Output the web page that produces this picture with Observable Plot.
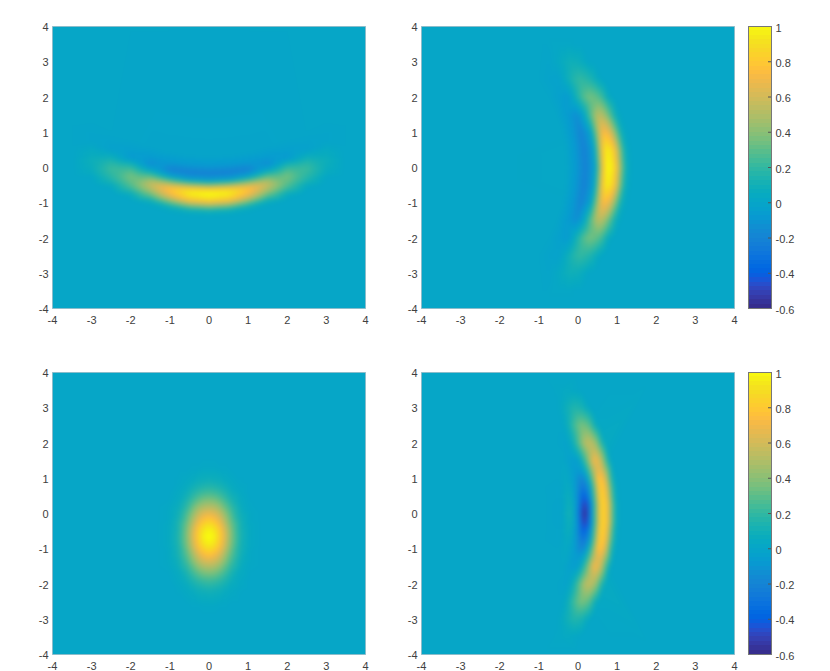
<!DOCTYPE html>
<html><head><meta charset="utf-8">
<script src="https://cdn.jsdelivr.net/npm/d3@7"></script>
<script src="https://cdn.jsdelivr.net/npm/@observablehq/plot@0.6"></script>
<style>
html,body{margin:0;padding:0;background:#fff;width:830px;height:671px;overflow:hidden}
#chart{position:relative;width:830px;height:671px}
</style></head><body><div id="chart"></div>
<script>
const parula=[[0.2081,0.1663,0.5292],[0.2116,0.1898,0.5777],[0.2123,0.2138,0.6270],[0.2081,0.2386,0.6771],[0.1959,0.2645,0.7279],[0.1707,0.2919,0.7792],[0.1253,0.3242,0.8303],[0.0591,0.3598,0.8683],[0.0117,0.3875,0.8820],[0.0060,0.4086,0.8828],[0.0165,0.4266,0.8786],[0.0329,0.4430,0.8720],[0.0498,0.4586,0.8641],[0.0629,0.4737,0.8554],[0.0723,0.4887,0.8467],[0.0779,0.5040,0.8384],[0.0793,0.5200,0.8312],[0.0749,0.5375,0.8263],[0.0641,0.5570,0.8240],[0.0488,0.5772,0.8228],[0.0343,0.5966,0.8199],[0.0265,0.6137,0.8135],[0.0239,0.6287,0.8038],[0.0231,0.6418,0.7913],[0.0228,0.6535,0.7768],[0.0267,0.6642,0.7607],[0.0384,0.6743,0.7436],[0.0590,0.6838,0.7254],[0.0843,0.6928,0.7062],[0.1133,0.7015,0.6859],[0.1453,0.7098,0.6646],[0.1801,0.7177,0.6424],[0.2178,0.7250,0.6193],[0.2586,0.7317,0.5954],[0.3022,0.7376,0.5712],[0.3482,0.7424,0.5473],[0.3953,0.7459,0.5244],[0.4420,0.7481,0.5033],[0.4871,0.7491,0.4840],[0.5300,0.7491,0.4661],[0.5709,0.7485,0.4494],[0.6099,0.7473,0.4337],[0.6473,0.7456,0.4188],[0.6834,0.7435,0.4044],[0.7184,0.7411,0.3905],[0.7525,0.7384,0.3768],[0.7858,0.7356,0.3633],[0.8185,0.7327,0.3498],[0.8507,0.7299,0.3360],[0.8824,0.7274,0.3217],[0.9139,0.7258,0.3063],[0.9450,0.7261,0.2886],[0.9739,0.7314,0.2666],[0.9938,0.7455,0.2403],[0.9990,0.7653,0.2164],[0.9955,0.7861,0.1967],[0.9880,0.8066,0.1794],[0.9789,0.8271,0.1633],[0.9697,0.8481,0.1475],[0.9626,0.8705,0.1309],[0.9589,0.8949,0.1132],[0.9598,0.9218,0.0948],[0.9661,0.9514,0.0755],[0.9763,0.9831,0.0538]];
const valueDomain=[-0.6,1];
const axisTicks=[-4,-3,-2,-1,0,1,2,3,4];
const barTicks=[-0.6,-0.4,-0.2,0,0.2,0.4,0.6,0.8,1];
const barLevels=d3.range(64);
const frameEdge=[-4,-3,-2,-1,0,1,2,3,4];

// Panel A (top left): samples along each arc line, at |x| = alongA
const alongA=[0,0.5,1,1.5,2,2.5,3,3.5];
const posA=[
 [-1.4,-1.37,-1.28,-1.12,-0.92,-0.7,-0.46,-0.22],
 [-1.22,-1.19,-1.1,-0.94,-0.74,-0.52,-0.28,-0.04],
 [-1.07,-1.04,-0.95,-0.79,-0.59,-0.37,-0.13,0.11],
 [-0.9,-0.87,-0.78,-0.62,-0.42,-0.2,0.04,0.28],
 [-0.72,-0.69,-0.6,-0.44,-0.24,-0.02,0.22,0.46],
 [-0.56,-0.53,-0.44,-0.28,-0.08,0.14,0.38,0.62],
 [-0.39,-0.36,-0.27,-0.11,0.09,0.31,0.55,0.79],
 [-0.3,-0.27,-0.18,-0.02,0.18,0.4,0.64,0.88],
 [-0.17,-0.14,-0.05,0.11,0.31,0.53,0.77,1.01],
 [0,0.03,0.12,0.28,0.48,0.7,0.94,1.18],
 [0.33,0.36,0.45,0.61,0.81,1.03,1.27,1.51]];
const valA=[
 [0,0,0,0,0,0,0,0],
 [0.1,0.1,0.09,0.08,0.07,0.04,0.01,0],
 [0.5,0.49,0.4,0.29,0.22,0.13,0.05,0],
 [0.9,0.86,0.69,0.49,0.31,0.19,0.07,0],
 [1.03,0.98,0.78,0.55,0.35,0.22,0.08,0],
 [0.62,0.59,0.47,0.34,0.26,0.16,0.05,0],
 [0,0,0.01,0.07,0.12,0.07,0.03,0],
 [-0.1,-0.1,-0.09,-0.04,0,0.02,0,0],
 [-0.23,-0.23,-0.21,-0.15,-0.08,-0.04,-0.01,0],
 [-0.1,-0.1,-0.09,-0.07,-0.04,-0.02,-0.01,0],
 [-0.01,-0.01,-0.01,-0.01,-0.005,0,0,0]];

// Panel B (top right): samples at |y| = alongB
const alongB=[0,0.5,1,1.5,2,2.5,3,3.5];
const posB=[
 [1.37,1.34,1.26,1.12,0.92,0.67,0.42,0.12],
 [1.21,1.18,1.1,0.96,0.76,0.51,0.26,-0.04],
 [1.07,1.04,0.96,0.82,0.62,0.37,0.12,-0.18],
 [0.92,0.89,0.81,0.67,0.47,0.22,-0.03,-0.33],
 [0.75,0.72,0.64,0.5,0.3,0.05,-0.2,-0.5],
 [0.6,0.57,0.49,0.35,0.15,-0.1,-0.35,-0.65],
 [0.45,0.42,0.34,0.2,0,-0.25,-0.5,-0.8],
 [0.35,0.32,0.24,0.1,-0.1,-0.35,-0.6,-0.9],
 [0.19,0.16,0.08,-0.06,-0.26,-0.51,-0.76,-1.06],
 [0,-0.03,-0.11,-0.25,-0.45,-0.7,-0.95,-1.25],
 [-0.3,-0.33,-0.41,-0.55,-0.75,-1,-1.25,-1.55]];
const valB=[
 [0,0,0,0,0,0,0,0],
 [0.1,0.1,0.09,0.08,0.06,0.04,0.01,0],
 [0.5,0.49,0.38,0.27,0.22,0.12,0.05,0.01],
 [0.9,0.86,0.66,0.47,0.31,0.17,0.08,0.01],
 [1.03,0.98,0.75,0.53,0.35,0.2,0.09,0.01],
 [0.62,0.59,0.45,0.33,0.28,0.16,0.06,0.01],
 [0,0,0.01,0.08,0.14,0.08,0.03,0],
 [-0.1,-0.1,-0.09,-0.04,0.04,0.03,0.01,0],
 [-0.22,-0.22,-0.2,-0.14,-0.07,-0.03,-0.01,0],
 [-0.1,-0.1,-0.09,-0.07,-0.04,-0.02,0,0],
 [0.01,0.01,0.005,0,0,0,0,0]];

// Panel C (bottom left): grid at |x| = gridXC, rows gridYC
const gridXC=[0,0.15,0.3,0.45,0.6,0.8,1.05,1.4];
const gridYC=[1.65,1.3,0.9,0.6,0.3,0.05,-0.2,-0.4,-0.65,-0.9,-1.1,-1.35,-1.6,-1.9,-2.2,-2.6,-2.95];
const valC=[
 [0,0,0,0,0,0,0,0],
 [0.02,0.02,0.01,0.01,0,0,0,0],
 [0.1,0.09,0.08,0.05,0.03,0.01,0,0],
 [0.23,0.22,0.18,0.13,0.07,0.03,0,0],
 [0.43,0.41,0.34,0.24,0.14,0.05,0.01,0],
 [0.63,0.6,0.5,0.35,0.21,0.08,0.02,0],
 [0.82,0.77,0.64,0.45,0.27,0.11,0.02,0],
 [0.96,0.9,0.75,0.53,0.32,0.12,0.03,0],
 [1.03,0.97,0.8,0.57,0.34,0.13,0.03,0],
 [0.96,0.9,0.75,0.53,0.32,0.12,0.03,0],
 [0.82,0.77,0.64,0.45,0.27,0.11,0.02,0],
 [0.63,0.6,0.5,0.35,0.21,0.08,0.02,0],
 [0.43,0.41,0.34,0.24,0.14,0.05,0.01,0],
 [0.23,0.22,0.18,0.13,0.07,0.03,0,0],
 [0.1,0.09,0.08,0.05,0.03,0.01,0,0],
 [0.02,0.02,0.01,0.01,0,0,0,0],
 [0,0,0,0,0,0,0,0]];

// Panel D (bottom right): samples at |y| = alongD
const alongD=[0,0.25,0.5,0.75,1,1.5,2,2.5,3,3.5];
const posD=[
 [1.05,1.05,1.03,1.01,0.97,0.85,0.7,0.53,0.35,0.1],
 [0.93,0.93,0.91,0.89,0.85,0.73,0.58,0.41,0.23,-0.02],
 [0.82,0.82,0.8,0.78,0.74,0.62,0.47,0.3,0.12,-0.13],
 [0.72,0.72,0.7,0.68,0.64,0.52,0.37,0.2,0.02,-0.23],
 [0.6,0.6,0.58,0.56,0.52,0.4,0.25,0.08,-0.1,-0.35],
 [0.5,0.5,0.48,0.46,0.42,0.3,0.15,-0.02,-0.2,-0.45],
 [0.37,0.37,0.35,0.33,0.29,0.17,0.02,-0.15,-0.33,-0.58],
 [0.27,0.27,0.25,0.23,0.19,0.07,-0.08,-0.25,-0.43,-0.68],
 [0.17,0.17,0.15,0.13,0.09,-0.03,-0.18,-0.35,-0.53,-0.78],
 [0.07,0.07,0.05,0.03,-0.01,-0.13,-0.28,-0.45,-0.63,-0.88],
 [-0.02,-0.02,-0.04,-0.06,-0.1,-0.22,-0.37,-0.54,-0.72,-0.97],
 [-0.2,-0.2,-0.22,-0.24,-0.28,-0.4,-0.55,-0.72,-0.9,-1.15],
 [-0.45,-0.45,-0.47,-0.49,-0.53,-0.65,-0.8,-0.97,-1.15,-1.4],
 [-0.8,-0.8,-0.82,-0.84,-0.88,-1,-1.15,-1.32,-1.5,-1.75]];
const valD=[
 [0,0,0,0,0,0,0.04,0.02,0,0],
 [0.13,0.13,0.13,0.14,0.15,0.2,0.2,0.12,0.05,0.01],
 [0.53,0.53,0.52,0.51,0.52,0.5,0.42,0.28,0.11,0.02],
 [0.79,0.79,0.78,0.76,0.73,0.66,0.52,0.33,0.14,0.03],
 [0.88,0.88,0.87,0.84,0.8,0.72,0.56,0.36,0.15,0.03],
 [0.5,0.5,0.5,0.5,0.48,0.47,0.48,0.3,0.12,0.02],
 [0,0,0,0.03,0.1,0.2,0.28,0.18,0.07,0.01],
 [-0.4,-0.36,-0.27,-0.18,-0.1,0.04,0.13,0.08,0.03,0],
 [-0.62,-0.55,-0.42,-0.3,-0.2,-0.06,0.04,0.02,0,0],
 [-0.4,-0.36,-0.27,-0.19,-0.12,-0.05,-0.02,0,0,0],
 [-0.13,-0.11,-0.09,-0.07,-0.05,-0.03,-0.01,0,0,0],
 [0.12,0.1,0.08,0.05,0.03,0.01,0,0,0,0],
 [-0.02,-0.02,-0.01,-0.01,0,0,0,0,0,0],
 [0,0,0,0,0,0,0,0,0,0]];

function border(){
  const rows=[];
  for(const e of frameEdge){rows.push({x:e,y:-4,v:0},{x:e,y:4,v:0},{x:-4,y:e,v:0},{x:4,y:e,v:0});}
  return rows;
}
function arcTable(along,pos,val,swap){
  const rows=[];
  pos.forEach((line,i)=>line.forEach((p,j)=>{
    for(const s of along[j]===0?[1]:[1,-1]){
      const a=s*along[j];
      rows.push(swap?{x:p,y:a,v:val[i][j]}:{x:a,y:p,v:val[i][j]});
    }
  }));
  return rows.concat(border());
}
function gridTable(xs,ys,val){
  const rows=[];
  ys.forEach((y,i)=>xs.forEach((x,j)=>{
    for(const s of x===0?[1]:[1,-1]) rows.push({x:s*x,y,v:val[i][j]});
  }));
  return rows.concat(border());
}
const tableA=arcTable(alongA,posA,valA,false);
const tableB=arcTable(alongB,posB,valB,true);
const tableC=gridTable(gridXC,gridYC,valC);
const tableD=arcTable(alongD,posD,valD,true);

const colorOpts={type:"linear",domain:valueDomain,clamp:true,interpolate:d3.piecewise(d3.interpolateRgb,parula.map(c=>d3.rgb(c[0]*255,c[1]*255,c[2]*255)))};
const FONT="Liberation Sans, Arial, sans-serif";
const TEXT="#404040";
const host=document.getElementById("chart");

function heat(table,left,top){
  const ml=32,mr=24,mt=12,mb=20;
  const svg=Plot.plot({
    width:313+ml+mr,height:282+mt+mb,
    marginLeft:ml,marginRight:mr,marginTop:mt,marginBottom:mb,
    style:{background:"transparent",fontFamily:FONT,fontSize:"11px",color:TEXT,overflow:"visible"},
    x:{domain:[-4,4]},y:{domain:[-4,4]},color:colorOpts,
    marks:[
      Plot.raster(table,{x:"x",y:"y",fill:"v",interpolate:"barycentric",blur:2}),
      Plot.frame({stroke:"#8fb4c2",strokeWidth:1,strokeOpacity:0.7}),
      Plot.axisX({ticks:axisTicks,tickFormat:d=>String(d),tickSize:0,tickPadding:8,label:null}),
      Plot.axisY({ticks:axisTicks,tickFormat:d=>String(d),tickSize:0,tickPadding:4,dy:1,label:null})
    ]
  });
  svg.style.position="absolute";svg.style.left=(left-ml)+"px";svg.style.top=(top-mt)+"px";
  host.appendChild(svg);
}
function bar(top){
  const ml=2,mr=34,mt=12,mb=12;
  const step=(valueDomain[1]-valueDomain[0])/64;
  const svg=Plot.plot({
    width:23+ml+mr,height:282+mt+mb,
    marginLeft:ml,marginRight:mr,marginTop:mt,marginBottom:mb,
    style:{background:"transparent",fontFamily:FONT,fontSize:"11px",color:TEXT,overflow:"visible"},
    x:{domain:[0,1],axis:null},y:{domain:valueDomain},color:colorOpts,
    marks:[
      Plot.rect(barLevels,{x1:0,x2:1,y1:d=>valueDomain[0]+d*step,y2:d=>valueDomain[0]+(d+1)*step,fill:d=>valueDomain[0]+(d+0.5)*step,shapeRendering:"crispEdges"}),
      Plot.ruleY(barTicks,{x1:0.87,x2:1,stroke:"#555",strokeWidth:1}),
      Plot.frame({stroke:"#777",strokeWidth:1}),
      Plot.axisY({anchor:"right",ticks:barTicks,tickFormat:d=>String(d),tickSize:0,tickPadding:4,dy:1.5,label:null})
    ]
  });
  svg.style.position="absolute";svg.style.left=(748-ml)+"px";svg.style.top=(top-mt)+"px";
  host.appendChild(svg);
}
heat(tableA,52,26);
heat(tableB,421,26);
heat(tableC,52,372);
heat(tableD,421,372);
bar(26);
bar(372);
</script></body></html>
